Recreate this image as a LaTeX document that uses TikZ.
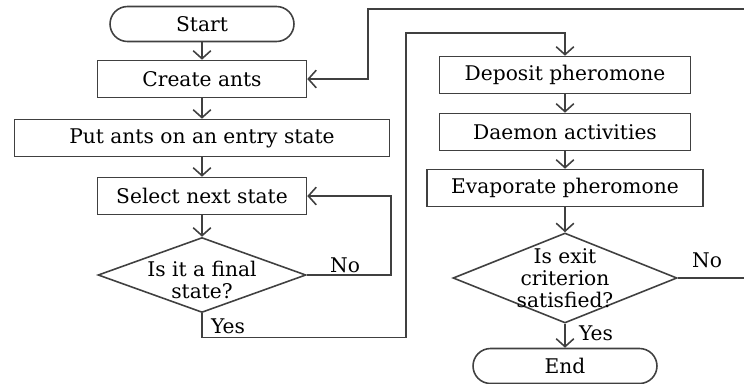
\documentclass[tikz,border=0pt]{standalone}
\usepackage{fontspec}
\setmainfont{DejaVu Serif}
\usetikzlibrary{shapes.geometric,arrows.meta}

\begin{document}
\begin{tikzpicture}[
    x=0.02cm, y=-0.02cm,
    >={Straight Barb[length=4.5pt,width=10pt]},
    line width=0.9pt, draw=black!75,
    every node/.style={font=\fontsize{11.5}{13}\selectfont},
    proc/.style={rectangle, draw, minimum height=0.74cm, inner sep=0pt},
    term/.style={rectangle, draw, rounded corners=0.35cm, minimum width=3.68cm, minimum height=0.7cm},
    decision/.style={diamond, draw, inner sep=0pt},
    qtext/.style={align=center, font=\fontsize{11.5}{12.5}\selectfont}
]
    \useasboundingbox (0,0) rectangle (744,383);

    % linke Spalte
    \node[term] (start) at (202,24) {Start};
    \node[proc, minimum width=4.18cm] (create) at (202,79) {Create ants};
    \node[proc, minimum width=7.5cm] (put) at (202,138) {Put ants on an entry state};
    \node[proc, minimum width=4.18cm] (select) at (202,196) {Select next state};
    \node[decision, minimum width=4.16cm, minimum height=1.5cm] (final) at (202,275) {};
    \node[qtext] at (202,280) {Is it a final\\state?};

    % rechte Spalte
    \node[proc, minimum width=5.02cm] (deposit) at (565,75) {Deposit pheromone};
    \node[proc, minimum width=5.02cm] (daemon) at (565,132) {Daemon activities};
    \node[proc, minimum width=5.52cm] (evap) at (565,188) {Evaporate pheromone};
    \node[decision, minimum width=4.48cm, minimum height=1.8cm] (exit) at (565,278) {};
    \node[qtext] at (565,278) {Is exit\\criterion\\satisfied?};
    \node[term] (end) at (565,366) {End};

    \draw[->] (start) -- (create);
    \draw[->] (create) -- (put);
    \draw[->] (put) -- (select);
    \draw[->] (select) -- (final);

    \draw[->] (deposit) -- (daemon);
    \draw[->] (daemon) -- (evap);
    \draw[->] (evap) -- (exit);
    \draw[->] (exit) -- (end);

    % Schleifen
    \coordinate (laneA) at (406,33);
    \coordinate (laneB) at (368,9);
    \draw[->] (final.east) -- ++(84,0) |- (select.east);
    \draw[->] (final.south) -- ++(0,24) -| (laneA) -| (deposit.north);
    \draw[->] (exit.east) -- ++(70,0) |- (laneB) |- (create.east);

    \node (no1) at (345,265) {No};
    \node (yes1) at (228,326) {Yes};
    \node (no2) at (707,260) {No};
    \node (yes2) at (596,333) {Yes};
\end{tikzpicture}
\end{document}
